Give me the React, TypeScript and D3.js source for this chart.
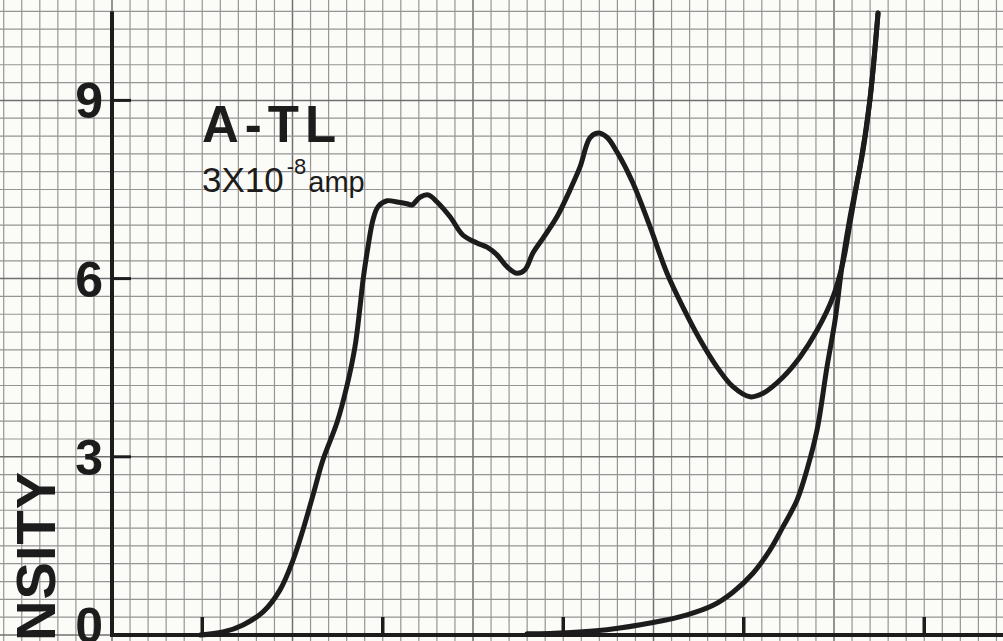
import { useEffect, useRef } from 'react'
import * as d3 from 'd3'

// chart values (x in grid squares from the axis, y in intensity units)
const yTicks = [0, 3, 6, 9]
const xTicks = [5, 15, 25, 35, 45]

const curveAX = [4.88, 6.15, 7.26, 8.37, 9.31, 10.03, 10.58, 11.14, 11.69, 12.47, 13.02, 13.46, 13.74, 13.91, 14.18, 14.46, 14.74, 15.24, 15.79, 16.34, 16.62, 17.06, 17.51, 18.01, 18.73, 19.45, 20.22, 20.78, 21.33, 21.88, 22.44, 22.88, 23.32, 23.88, 24.65, 25.37, 25.93, 26.48, 26.93, 27.42, 27.98, 28.86, 29.81, 30.75, 31.63, 32.58, 33.52, 34.4, 35.35, 36.07, 37.17, 38.12, 39.06, 39.94, 40.5, 40.89, 41.27, 41.61, 41.99, 42.44]
const curveAY = [0, 0.05, 0.17, 0.39, 0.76, 1.26, 1.77, 2.36, 2.95, 3.58, 4.2, 4.85, 5.52, 5.98, 6.53, 6.99, 7.21, 7.31, 7.29, 7.26, 7.24, 7.37, 7.41, 7.29, 7.04, 6.73, 6.6, 6.53, 6.4, 6.2, 6.09, 6.15, 6.43, 6.68, 7.04, 7.49, 7.88, 8.37, 8.45, 8.38, 8.13, 7.61, 6.87, 6.09, 5.52, 4.97, 4.51, 4.18, 4.01, 4.07, 4.34, 4.68, 5.13, 5.69, 6.28, 6.94, 7.61, 8.16, 9.01, 10.47]

const curveBX = [22.99, 25.2, 27.42, 29.97, 31.86, 33.3, 34.4, 35.51, 36.45, 37.17, 37.95, 38.5, 39.06, 39.61, 40.06, 40.44, 40.89, 41.44, 41.99, 42.44]
const curveBY = [0.02, 0.04, 0.09, 0.21, 0.34, 0.5, 0.72, 1.04, 1.43, 1.82, 2.27, 2.78, 3.45, 4.51, 5.3, 6.2, 7.04, 7.88, 9.01, 10.47]

const title = 'A-TL'
const yLabel = 'INTENSITY'

const W = 1003
const H = 641

export default function App() {
  const ref = useRef<SVGSVGElement>(null)

  useEffect(() => {
    if (!ref.current) return
    const svg = d3.select(ref.current)
    svg.selectAll('*').remove()

    const x = d3.scaleLinear().domain([0, 10]).range([112, 292.5])
    const y = d3.scaleLinear().domain([0, 9]).range([635, 100.4])

    svg.append('rect').attr('width', W).attr('height', H).attr('fill', '#fbfbf8')

    // graph paper
    const grid = svg.append('g')
    const uMin = Math.floor(x.invert(0)), uMax = Math.ceil(x.invert(W))
    d3.range(uMin, uMax + 1).forEach(u => {
      const major = u % 10 === 0
      grid.append('line')
        .attr('x1', x(u)).attr('x2', x(u)).attr('y1', 0).attr('y2', H)
        .attr('stroke', major ? '#707070' : '#959595').attr('stroke-width', major ? 1.5 : 1.2)
    })
    d3.range(-1, 37).forEach(k => {
      const v = k * 0.3
      const major = k % 10 === 0
      grid.append('line')
        .attr('x1', 0).attr('x2', W).attr('y1', y(v)).attr('y2', y(v))
        .attr('stroke', major ? '#707070' : '#959595').attr('stroke-width', major ? 1.5 : 1.2)
    })

    const ink = '#1c1c1c'

    // axes
    svg.append('line')
      .attr('x1', x(0)).attr('x2', x(0)).attr('y1', y(10.5)).attr('y2', y(0) + 2)
      .attr('stroke', ink).attr('stroke-width', 4)
    svg.append('line')
      .attr('x1', x(0)).attr('x2', W).attr('y1', y(0)).attr('y2', y(0))
      .attr('stroke', ink).attr('stroke-width', 4)

    yTicks.filter(t => t > 0).forEach(t => {
      svg.append('line')
        .attr('x1', x(0)).attr('x2', x(0) + 19).attr('y1', y(t)).attr('y2', y(t))
        .attr('stroke', ink).attr('stroke-width', 3)
    })
    yTicks.forEach(t => {
      svg.append('text')
        .attr('x', x(0) - 9).attr('y', t === 0 ? y(t) + 8 : y(t) + 18)
        .attr('text-anchor', 'end')
        .attr('font-family', 'Liberation Sans, Arial, sans-serif')
        .attr('font-weight', 'bold').attr('font-size', 50)
        .attr('fill', ink)
        .text(t)
    })
    xTicks.forEach(t => {
      svg.append('line')
        .attr('x1', x(t)).attr('x2', x(t)).attr('y1', y(0)).attr('y2', y(0) - 18)
        .attr('stroke', ink).attr('stroke-width', 3.5)
    })

    // curves
    const line = d3.line<[number, number]>()
      .x(d => x(d[0]))
      .y(d => y(d[1]))
      .curve(d3.curveCatmullRom.alpha(0.5))

    const seriesA = curveAX.map((u, i) => [u, curveAY[i]] as [number, number])
    const seriesB = curveBX.map((u, i) => [u, curveBY[i]] as [number, number])

    ;[seriesB, seriesA].forEach(s => {
      svg.append('path')
        .datum(s)
        .attr('fill', 'none')
        .attr('stroke', ink)
        .attr('stroke-width', 5)
        .attr('stroke-linecap', 'round')
        .attr('stroke-linejoin', 'round')
        .attr('d', line)
    })

    // labels
    svg.append('text')
      .attr('x', 202).attr('y', 142)
      .attr('font-family', 'Liberation Sans, Arial, sans-serif')
      .attr('font-weight', 'bold').attr('font-size', 51)
      .attr('letter-spacing', 6)
      .attr('fill', ink)
      .text(title)

    const sub = svg.append('text')
      .attr('x', 202).attr('y', 192)
      .attr('font-family', 'Liberation Sans, Arial, sans-serif')
      .attr('font-size', 35)
      .attr('fill', ink)
    sub.append('tspan').text('3X10')
    sub.append('tspan').attr('font-size', 22).attr('dx', 3).attr('dy', -18).text('-8')
    sub.append('tspan').attr('font-size', 29).attr('dx', 2).attr('dy', 18).text('amp')

    // axis title, its start runs off the bottom edge as in the scan
    svg.append('text')
      .attr('transform', 'translate(55,471) rotate(-90)')
      .attr('text-anchor', 'end')
      .attr('font-family', 'Liberation Sans, Arial, sans-serif')
      .attr('font-weight', 'bold').attr('font-size', 56)
      .attr('letter-spacing', 1)
      .attr('fill', ink)
      .text(yLabel)
  }, [])

  return (
    <svg
      ref={ref}
      width={W}
      height={H}
      style={{ position: 'absolute', left: 0, top: 0, display: 'block' }}
    />
  )
}
